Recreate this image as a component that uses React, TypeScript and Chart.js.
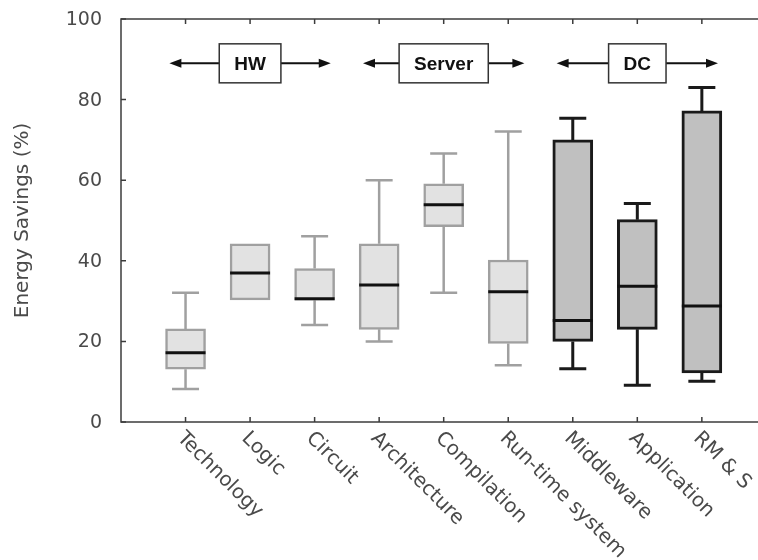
import React, { useEffect, useRef } from 'react';
import { Chart, registerables } from 'chart.js';

Chart.register(...registerables);

// Energy savings per abstraction layer (%), five-number summaries
const categories = ['Technology', 'Logic', 'Circuit', 'Architecture', 'Compilation', 'Run-time system', 'Middleware', 'Application', 'RM & S'];
const whiskerLow = [8.2, 30.3, 24.1, 20.0, 32.1, 14.1, 13.2, 9.1, 10.1];
const quartile1 = [13.1, 30.3, 30.2, 23.0, 48.5, 19.5, 20.0, 23.0, 12.2];
const medians = [17.2, 37.0, 30.6, 34.0, 53.9, 32.3, 25.2, 33.7, 28.8];
const quartile3 = [23.1, 44.2, 38.1, 44.2, 59.1, 40.2, 70.0, 50.2, 77.2];
const whiskerHigh = [32.1, 44.2, 46.1, 60.0, 66.6, 72.1, 75.4, 54.2, 83.0];
const yTicks = [0, 20, 40, 60, 80, 100];

// Layer groups: label and the categories each one covers
const groupLabels = ['HW', 'Server', 'DC'];
const groupStart = [0, 3, 6];
const groupEnd = [2, 5, 8];
const groupLevel = 89;

const yTitle = 'Energy Savings (%)';

const TEXT = '#4a4a4a';
const AXIS = '#3c3c3c';
const LIGHT_FILL = '#e2e2e2';
const LIGHT_LINE = '#a0a0a0';
const DARK_FILL = '#c0c0c0';
const DARK_LINE = '#1a1a1a';
const LABEL_FONT = '"DejaVu Sans", sans-serif';

const isDark = (i: number) => i >= groupStart[2];

const decorPlugin = {
  id: 'boxDecor',
  beforeDatasetsDraw(chart: any) {
    const { ctx, scales } = chart;
    const x = scales.x;
    const y = scales.y;
    ctx.save();
    categories.forEach((_, i) => {
      const cx = x.getPixelForValue(i + 1);
      const dark = isDark(i);
      ctx.strokeStyle = dark ? DARK_LINE : LIGHT_LINE;
      ctx.lineWidth = dark ? 3 : 2.5;
      const capHalf = 13.5;
      const segs: [number, number][] = [
        [quartile3[i], whiskerHigh[i]],
        [quartile1[i], whiskerLow[i]],
      ];
      segs.forEach(([from, to]) => {
        if (Math.abs(from - to) < 0.01) return;
        const y0 = y.getPixelForValue(from);
        const y1 = y.getPixelForValue(to);
        ctx.beginPath();
        ctx.moveTo(cx, y0);
        ctx.lineTo(cx, y1);
        ctx.moveTo(cx - capHalf, y1);
        ctx.lineTo(cx + capHalf, y1);
        ctx.stroke();
      });
    });
    ctx.restore();
  },
  afterDatasetsDraw(chart: any) {
    const { ctx, chartArea: a, scales } = chart;
    const x = scales.x;
    const y = scales.y;
    ctx.save();

    // medians
    categories.forEach((_, i) => {
      const cx = x.getPixelForValue(i + 1);
      const my = y.getPixelForValue(medians[i]);
      ctx.strokeStyle = '#111';
      ctx.lineWidth = 3;
      ctx.beginPath();
      ctx.moveTo(cx - 20, my);
      ctx.lineTo(cx + 20, my);
      ctx.stroke();
    });

    // frame: left, top and bottom edges
    ctx.strokeStyle = AXIS;
    ctx.lineWidth = 1.5;
    ctx.beginPath();
    ctx.moveTo(a.right, a.top);
    ctx.lineTo(a.left, a.top);
    ctx.lineTo(a.left, a.bottom);
    ctx.lineTo(a.right, a.bottom);
    ctx.stroke();

    // inward tick marks
    ctx.lineWidth = 1.5;
    ctx.beginPath();
    yTicks.forEach((v) => {
      const py = y.getPixelForValue(v);
      ctx.moveTo(a.left, py);
      ctx.lineTo(a.left + 5, py);
    });
    categories.forEach((_, i) => {
      const px = x.getPixelForValue(i + 1);
      ctx.moveTo(px, a.top);
      ctx.lineTo(px, a.top + 5);
      ctx.moveTo(px, a.bottom);
      ctx.lineTo(px, a.bottom - 5);
    });
    ctx.stroke();

    // y tick labels
    ctx.fillStyle = TEXT;
    ctx.font = `19px ${LABEL_FONT}`;
    ctx.textAlign = 'right';
    ctx.textBaseline = 'middle';
    yTicks.forEach((v) => {
      ctx.fillText(String(v), a.left - 19, y.getPixelForValue(v) + 1);
    });

    // y title
    ctx.save();
    ctx.font = `20px ${LABEL_FONT}`;
    ctx.textAlign = 'center';
    ctx.textBaseline = 'middle';
    ctx.translate(23, (a.top + a.bottom) / 2);
    ctx.rotate(-Math.PI / 2);
    ctx.fillText(yTitle, 0, 0);
    ctx.restore();

    // category labels, slanted downwards from each tick
    ctx.font = `20px ${LABEL_FONT}`;
    ctx.textAlign = 'left';
    ctx.textBaseline = 'alphabetic';
    categories.forEach((label, i) => {
      const px = x.getPixelForValue(i + 1);
      ctx.save();
      ctx.translate(px - 9, a.bottom + 17);
      ctx.rotate(Math.PI / 4);
      ctx.fillText(label, 0, 0);
      ctx.restore();
    });

    // group annotations: boxed label with arrows to both sides
    const gy = y.getPixelForValue(groupLevel);
    groupLabels.forEach((label, g) => {
      const center = (groupStart[g] + groupEnd[g]) / 2 + 1;
      const half = (groupEnd[g] - groupStart[g]) / 2 + 0.25;
      const cx = x.getPixelForValue(center);
      const xl = x.getPixelForValue(center - half);
      const xr = x.getPixelForValue(center + half);
      ctx.font = `bold 19px "Liberation Sans", Arial, sans-serif`;
      const tw = ctx.measureText(label).width;
      const bw = tw + 30;
      const bh = 39;

      ctx.strokeStyle = '#111';
      ctx.fillStyle = '#111';
      ctx.lineWidth = 2;
      ctx.beginPath();
      ctx.moveTo(xl + 8, gy);
      ctx.lineTo(cx - bw / 2, gy);
      ctx.moveTo(cx + bw / 2, gy);
      ctx.lineTo(xr - 8, gy);
      ctx.stroke();
      [[xl, 1], [xr, -1]].forEach(([tip, dir]) => {
        ctx.beginPath();
        ctx.moveTo(tip, gy);
        ctx.lineTo(tip + dir * 12, gy - 4.5);
        ctx.lineTo(tip + dir * 12, gy + 4.5);
        ctx.closePath();
        ctx.fill();
      });

      ctx.fillStyle = '#fff';
      ctx.fillRect(cx - bw / 2, gy - bh / 2, bw, bh);
      ctx.strokeStyle = '#333';
      ctx.lineWidth = 1.5;
      ctx.strokeRect(cx - bw / 2, gy - bh / 2, bw, bh);
      ctx.fillStyle = '#111';
      ctx.textAlign = 'center';
      ctx.textBaseline = 'middle';
      ctx.fillText(label, cx, gy + 1);
    });

    ctx.restore();
  },
};

export default function App() {
  const canvasRef = useRef<HTMLCanvasElement | null>(null);

  useEffect(() => {
    if (!canvasRef.current) return;
    const chart = new Chart(canvasRef.current, {
      type: 'bar',
      data: {
        datasets: [
          {
            data: categories.map((_, i) => ({ x: i + 1, y: [quartile1[i], quartile3[i]] })) as any,
            backgroundColor: categories.map((_, i) => (isDark(i) ? DARK_FILL : LIGHT_FILL)),
            borderColor: categories.map((_, i) => (isDark(i) ? DARK_LINE : LIGHT_LINE)),
            borderWidth: categories.map((_, i) => (isDark(i) ? 3 : 2.5)),
            borderSkipped: false,
            barThickness: 40,
            grouped: false,
          } as any,
        ],
      },
      options: {
        animation: false,
        responsive: false,
        devicePixelRatio: 1,
        layout: { padding: { left: 121, top: 19, right: 0, bottom: 138 } },
        scales: {
          x: { type: 'linear', min: 0, max: 9.87, offset: false, display: false },
          y: { type: 'linear', min: 0, max: 100, display: false },
        },
        plugins: {
          legend: { display: false },
          tooltip: { enabled: false },
        },
      },
      plugins: [decorPlugin],
    });
    return () => chart.destroy();
  }, []);

  return (
    <div style={{ position: 'fixed', left: 0, top: 0, width: 758, height: 560, background: '#fff' }}>
      <canvas ref={canvasRef} width={758} height={560} />
    </div>
  );
}
